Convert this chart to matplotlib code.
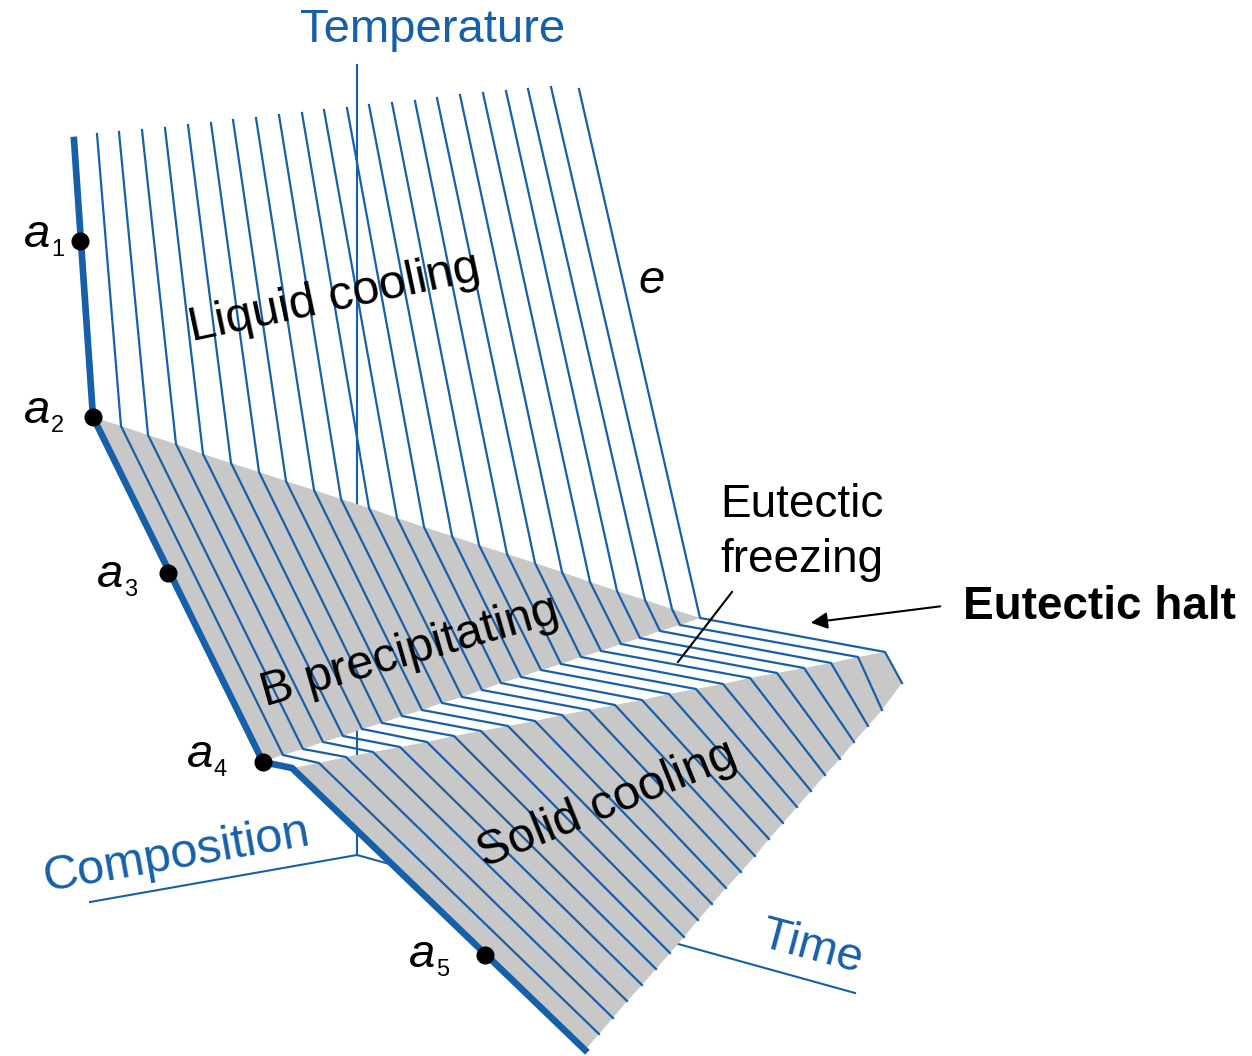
import matplotlib
matplotlib.use("Agg")
import matplotlib.pyplot as plt
from matplotlib.patches import Polygon

plt.rcParams['font.family'] = ['Liberation Sans', 'DejaVu Sans']

BLUE = '#1660a9'
GREY = '#c8c8c8'

# cooling curves in diagram units, one per composition
# (first = curve a, last = eutectic composition e)
top_x = [74, 97, 119, 142, 165, 188, 211, 233, 256, 279, 302, 324, 347, 369, 392, 415, 437, 460, 483, 506, 528, 551, 579]
top_y = [140, 134, 132, 130, 128, 125, 123, 120, 118, 115, 113, 110, 108, 105, 103, 101, 98, 95, 93, 91, 89, 87, 89]

# liquidus break (start of B precipitating)
liq_x = [93, 121, 148, 176, 203, 231, 259, 286, 314, 341, 369, 397, 424, 452, 479, 507, 535, 562, 590, 617, 645, 672, 700]
liq_y = [417, 426, 435, 444, 454, 463, 472, 481, 490, 499, 508, 518, 527, 536, 545, 554, 563, 572, 582, 591, 600, 609, 618]

# start of eutectic halt
eut0_x = [263, 283, 303, 323, 343, 362, 382, 402, 422, 442, 462, 482, 501, 521, 541, 561, 581, 601, 621, 640, 660, 680, 700]
eut0_y = [762, 755, 749, 742, 736, 729, 723, 716, 710, 703, 697, 690, 683, 677, 670, 664, 657, 651, 644, 638, 631, 625, 618]

# end of eutectic halt (start of solid cooling)
eut1_x = [292, 319, 346, 373, 400, 427, 454, 481, 508, 535, 562, 589, 615, 642, 669, 696, 723, 750, 777, 804, 831, 858, 885]
eut1_y = [768, 763, 757, 752, 747, 742, 736, 731, 726, 721, 715, 710, 705, 700, 694, 689, 684, 678, 673, 668, 663, 657, 652]

# end of time window
end_x = [585, 599, 613, 627, 642, 656, 670, 684, 698, 712, 726, 741, 755, 769, 783, 797, 811, 825, 840, 854, 868, 882, 902]
end_y = [1050, 1034, 1018, 1001, 985, 969, 953, 937, 920, 904, 888, 872, 856, 839, 823, 807, 791, 775, 759, 742, 726, 710, 683]

# marked points on curve a
dot_x = [80, 93, 168, 263, 485]
dot_y = [241, 417, 573, 762, 955]
dot_sub = ['1', '2', '3', '4', '5']
lab_x = [50, 50, 123, 213, 435]
lab_y = [247, 423, 587, 767, 967]

# axes of the 3d sketch
origin = (357, 855)
temp_end = (357, 65)
comp_end = (90, 902)
time_end = (855, 993)

fig = plt.figure(figsize=(12.52, 10.56), dpi=100)
ax = fig.add_axes([0, 0, 1, 1])
ax.set_xlim(0, 1252)
ax.set_ylim(1056, 0)
ax.axis('off')

for end in (temp_end, comp_end, time_end):
    ax.plot([origin[0], end[0]], [origin[1], end[1]], color=BLUE, lw=1.5, zorder=1)

# shaded faces
b_face = list(zip(liq_x, liq_y)) + list(zip(eut0_x, eut0_y))[::-1]
s_face = list(zip(eut1_x, eut1_y)) + list(zip(end_x, end_y))[::-1]
ax.add_patch(Polygon(b_face, closed=True, fc=GREY, ec='none', zorder=2))
ax.add_patch(Polygon(s_face, closed=True, fc=GREY, ec='none', zorder=2))

for i in range(len(top_x)):
    xs = [top_x[i], liq_x[i], eut0_x[i], eut1_x[i], end_x[i]]
    ys = [top_y[i], liq_y[i], eut0_y[i], eut1_y[i], end_y[i]]
    ax.plot(xs, ys, color=BLUE, lw=4.8 if i == 0 else 1.6, zorder=4 if i == 0 else 3)

ax.plot(dot_x, dot_y, 'o', color='black', ms=12, zorder=5)
for x, y, s in zip(lab_x, lab_y, dot_sub):
    ax.text(x, y, 'a', fontsize=34, fontstyle='italic', ha='right', va='baseline', zorder=6)
    ax.text(x + 1, y + 9, s, fontsize=17, ha='left', va='baseline', zorder=6)

ax.text(433, 30, 'Temperature', color=BLUE, fontsize=34, ha='center', va='center')
ax.text(177, 855, 'Composition', color=BLUE, fontsize=35, rotation=10,
        ha='center', va='center', rotation_mode='anchor')
ax.text(812, 948, 'Time', color=BLUE, fontsize=34, rotation=-15,
        ha='center', va='center', rotation_mode='anchor')

ax.text(335, 298, 'Liquid cooling', fontsize=35, rotation=12,
        ha='center', va='center', rotation_mode='anchor', zorder=6)
ax.text(410, 652, 'B precipitating', fontsize=35, rotation=16,
        ha='center', va='center', rotation_mode='anchor', zorder=6)
ax.text(607, 805, 'Solid cooling', fontsize=35, rotation=22,
        ha='center', va='center', rotation_mode='anchor', zorder=6)
ax.text(652, 281, 'e', fontsize=34, fontstyle='italic', ha='center', va='center')

ax.text(720, 517, 'Eutectic', fontsize=33, ha='left', va='baseline')
ax.text(720, 572, 'freezing', fontsize=33, ha='left', va='baseline')
ax.plot([732, 678], [592, 662], color='black', lw=1.5, zorder=6)

ax.text(963, 619, 'Eutectic halt', fontsize=33, fontweight='bold', ha='left', va='baseline')
ax.annotate('', xy=(808, 623), xytext=(943, 606),
            arrowprops=dict(arrowstyle='-|>', color='black', lw=1.5, mutation_scale=25))

fig.savefig('out.png', dpi=100)
